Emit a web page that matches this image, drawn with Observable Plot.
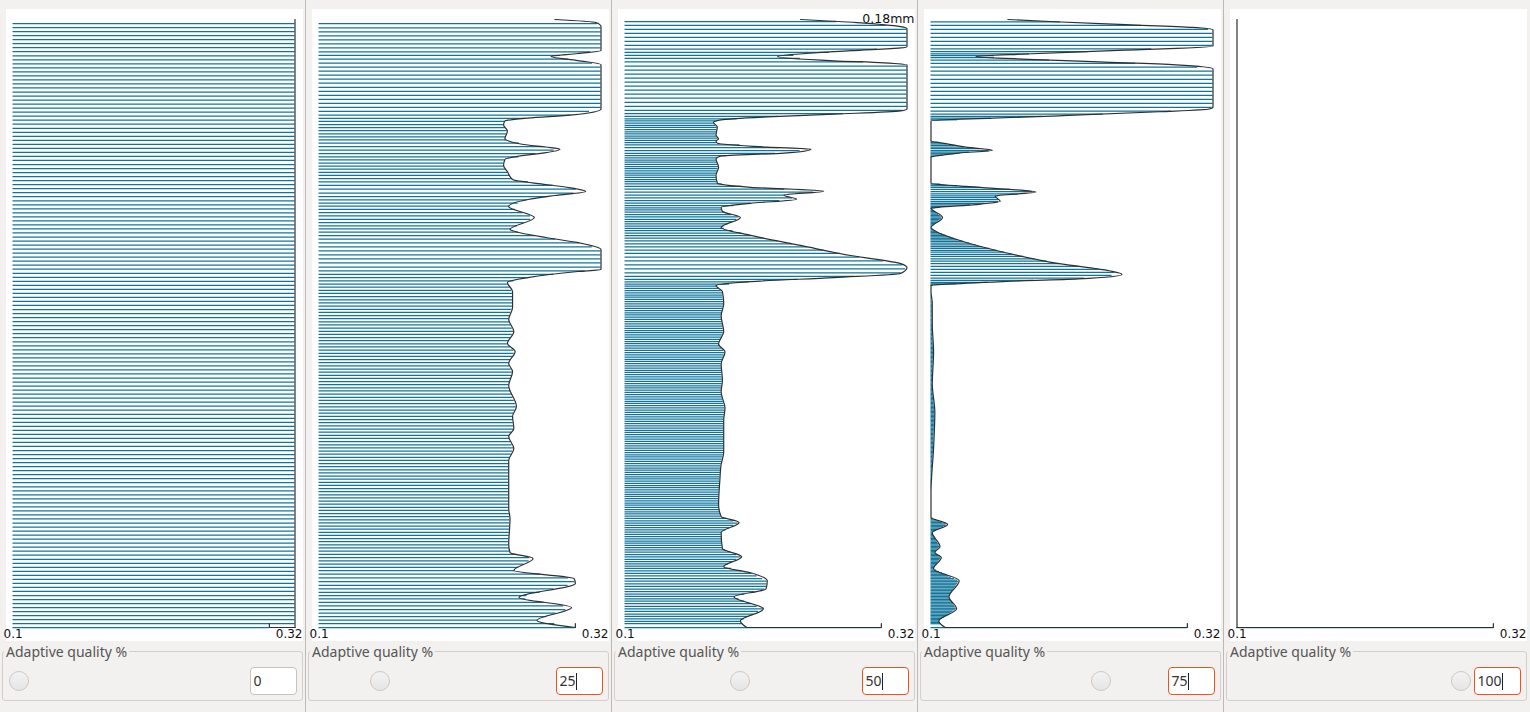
<!DOCTYPE html>
<html><head><meta charset="utf-8">
<script src="https://cdn.jsdelivr.net/npm/d3@7"></script>
<script src="https://cdn.jsdelivr.net/npm/@observablehq/plot@0.6"></script>
<style>
body{margin:0;background:#f2f1f0;width:1530px;height:712px;overflow:hidden;font-family:"Noto Sans",sans-serif;position:relative}
.panel{position:absolute;top:0;width:306px;height:712px}
.white{position:absolute;left:6px;top:9px;width:297px;height:632px;background:#fff}
.sep{position:absolute;left:305px;top:0;width:1px;height:712px;background:#bdb9b4}
.plot{position:absolute;left:0;top:0}
.group{position:absolute;left:2px;top:651px;width:301px;height:50px;border:1px solid #d3cfca;border-radius:3px;box-sizing:border-box}
.gtitle{position:absolute;left:4px;top:642px;padding:0 2px;background:#f2f1f0;font-size:14px;color:#555;line-height:19px}
.knob{position:absolute;top:670.5px;width:20px;height:20px;border-radius:50%;border:1px solid #cdc8c3;background:linear-gradient(#f3f3f3,#e5e5e5);box-sizing:border-box}
.box{position:absolute;left:249.5px;top:667px;width:47px;height:27.5px;border:1px solid #c8c2bc;border-radius:4px;background:#fff;box-sizing:border-box;font-size:14px;color:#333;line-height:25px;padding-left:3px}
.box.focus{border-color:#e9541f}
.caret{display:inline-block;width:1px;height:17px;background:#222;vertical-align:-4px}
</style>
</head><body>
<script>
// ---- data ----
const H = 48.3;            // object height (mm)
const FIRST = 0.3;         // first layer height (mm)
const xTicks = [0.1, 0.32];
const xTickLabels = ["0.1", "0.32"];
const qualities = [0, 25, 50, 75, 100];
const hoverLabel = "0.18mm";
const groupTitle = "Adaptive quality %";

const p1Z = [0, 48.3];
const p1H = [0.32, 0.32];

const p2Z = [0,0.56,1.59,2.38,3.50,3.89,4.53,5.48,5.96,6.59,8.66,9.45,10.72,13.27,14.22,15.17,15.81,16.76,17.56,19.22,20.34,20.97,21.93,22.56,23.51,24.47,25.42,26.69,27.41,27.80,28.28,28.44,30.03,30.58,30.98,31.46,31.62,32.57,33.45,34.00,34.32,34.64,34.95,35.19,35.59,36.22,36.70,37.18,38.00,38.17,38.33,38.65,38.81,39.44,39.92,40.24,40.47,40.72,41.20,44.72,45.04,45.36,45.60,45.84,47.74,48.06,48.3];
const p2H = [0.300,0.270,0.297,0.256,0.300,0.299,0.252,0.267,0.249,0.248,0.249,0.248,0.248,0.248,0.252,0.248,0.252,0.251,0.254,0.248,0.251,0.248,0.253,0.247,0.252,0.248,0.251,0.251,0.247,0.263,0.302,0.320,0.320,0.302,0.277,0.253,0.249,0.268,0.248,0.263,0.284,0.308,0.295,0.277,0.251,0.247,0.244,0.245,0.288,0.277,0.263,0.248,0.245,0.247,0.244,0.245,0.263,0.298,0.320,0.320,0.302,0.281,0.302,0.320,0.320,0.316,0.284];

const p3Z = [0,0.52,1.48,2.44,3.07,3.71,4.35,4.83,5.63,6.26,7.54,8.34,8.82,9.77,11.69,12.96,13.92,15.20,16.47,17.43,18.70,19.66,20.94,21.89,22.53,23.49,24.77,25.72,26.68,27.16,27.48,27.80,28.12,28.59,28.91,29.55,30.35,31.15,31.78,32.58,33.06,33.38,33.70,34.02,34.34,34.66,34.97,35.29,35.93,36.57,37.21,37.46,37.69,38.00,38.16,38.48,38.64,38.80,39.12,39.76,40.14,40.33,40.56,40.78,41.04,41.19,44.70,44.86,45.02,45.34,45.82,46.04,46.14,47.57,47.73,48.05,48.3];
const p3H = [0.195,0.190,0.208,0.185,0.210,0.211,0.198,0.177,0.191,0.176,0.175,0.189,0.175,0.173,0.174,0.175,0.177,0.177,0.177,0.178,0.175,0.176,0.175,0.178,0.173,0.177,0.175,0.177,0.176,0.171,0.198,0.263,0.315,0.320,0.315,0.276,0.237,0.198,0.175,0.190,0.176,0.175,0.198,0.234,0.224,0.255,0.198,0.172,0.171,0.173,0.171,0.175,0.224,0.245,0.211,0.172,0.171,0.173,0.171,0.172,0.169,0.175,0.211,0.263,0.315,0.320,0.320,0.302,0.263,0.219,0.276,0.315,0.320,0.320,0.315,0.281,0.237];

const p4Z = [0,0.52,1.48,2.44,3.71,4.67,5.56,5.95,6.42,7.54,8.18,8.75,10.73,14.24,17.11,19.34,21.90,24.13,25.72,26.68,27.19,27.25,27.48,27.70,28.05,28.34,28.91,29.71,30.76,31.46,31.78,32.58,33.32,33.38,33.60,33.86,34.27,34.59,34.81,35.04,35.29,37.37,37.46,37.69,37.91,38.16,38.48,38.64,40.24,40.46,40.65,40.97,41.19,41.35,44.38,44.70,44.93,45.12,45.34,45.56,45.82,46.20,47.48,47.67,47.89,48.12,48.3];
const p4H = [0.111,0.106,0.120,0.114,0.122,0.102,0.108,0.103,0.107,0.101,0.113,0.100,0.100,0.102,0.103,0.101,0.102,0.101,0.101,0.100,0.100,0.109,0.156,0.215,0.249,0.239,0.200,0.161,0.122,0.104,0.100,0.109,0.100,0.106,0.135,0.154,0.150,0.182,0.161,0.127,0.100,0.100,0.104,0.122,0.148,0.127,0.109,0.100,0.100,0.148,0.200,0.278,0.317,0.320,0.320,0.291,0.231,0.182,0.135,0.174,0.241,0.320,0.320,0.304,0.252,0.197,0.160];

const p5Z = [0, 48.3];
const p5H = [0.1, 0.1];

// ---- build ----
const profiles = [[p1Z,p1H],[p2Z,p2H],[p3Z,p3H],[p4Z,p4H],[p5Z,p5H]];

function profileAt(zs, hs, z) {
  const i = d3.bisectRight(zs, z);
  if (i <= 0) return hs[0];
  if (i >= zs.length) return hs[hs.length - 1];
  const t = (z - zs[i-1]) / (zs[i] - zs[i-1]);
  return hs[i-1] + t * (hs[i] - hs[i-1]);
}
// stack layers: each layer's thickness is the profile value at its bottom
function stackLayers(zs, hs) {
  const out = [{z: 0, h: FIRST}];
  let z = FIRST;
  while (z < H - 0.05) {
    const h = profileAt(zs, hs, z);
    out.push({z, h});
    z += h;
  }
  return out;
}

profiles.forEach(([zs, hs], i) => {
  const panel = document.createElement("div");
  panel.className = "panel";
  panel.style.left = (306 * i) + "px";
  document.body.appendChild(panel);
  const white = document.createElement("div");
  white.className = "white";
  panel.appendChild(white);
  if (i < 4) { const s = document.createElement("div"); s.className = "sep"; panel.appendChild(s); }

  const layers = stackLayers(zs, hs);
  const firstStep = [{z: FIRST, h: FIRST}, {z: 0, h: FIRST}, {z: 0, h: hs[0]}];
  const profile = zs.map((z, j) => ({z, h: hs[j]}));
  const fmt = d => xTickLabels[xTicks.indexOf(d)];
  const marks = [
    Plot.ruleY(layers, {y: "z", x1: () => xTicks[0], x2: "h", stroke: "#10749a", strokeWidth: 1.25}),
    Plot.line(firstStep, {x: "h", y: "z", stroke: "#2f2f2f", strokeWidth: 1.2}),
    Plot.line(profile, {x: "h", y: "z", stroke: "#2f2f2f", strokeWidth: 1.2, curve: "monotone-y"}),
    Plot.axisX({ticks: [xTicks[0]], tickFormat: fmt, tickSize: 0, tickPadding: 0, textAnchor: "start", dx: -9.5, dy: 1.5, label: null, fill: "#111", fontSize: 12}),
    Plot.axisX({ticks: [xTicks[1]], tickFormat: fmt, tickSize: 0, tickPadding: 0, textAnchor: "end", dx: 7.5, dy: 1.5, label: null, fill: "#111", fontSize: 12})
  ];
  if (i === 2) marks.push(Plot.text([hoverLabel], {frameAnchor: "top-right", text: d => d, textAnchor: "end", dx: 7.5, dy: -5, fontSize: 12.5, fill: "#111"}));

  const svg = Plot.plot({
    width: 306, height: 645,
    marginLeft: 12.5, marginRight: 11.5, marginTop: 19, marginBottom: 18,
    x: {domain: [xTicks[0], xTicks[1]]},
    y: {domain: [0, H], axis: null},
    style: {background: "transparent", fontFamily: "DejaVu Sans", fontSize: "12px", overflow: "visible"},
    marks
  });
  svg.classList.add("plot");
  panel.appendChild(svg);

  const group = document.createElement("div"); group.className = "group"; panel.appendChild(group);
  const title = document.createElement("div"); title.className = "gtitle"; title.textContent = groupTitle; panel.appendChild(title);
  const q = qualities[i];
  const knob = document.createElement("div"); knob.className = "knob";
  knob.style.left = (19 + 2.18 * q - 10) + "px"; panel.appendChild(knob);
  const box = document.createElement("div"); box.className = "box" + (i > 0 ? " focus" : "");
  box.appendChild(document.createTextNode(String(q)));
  if (i > 0) { const c = document.createElement("span"); c.className = "caret"; box.appendChild(c); }
  panel.appendChild(box);
});
</script>
</body></html>
